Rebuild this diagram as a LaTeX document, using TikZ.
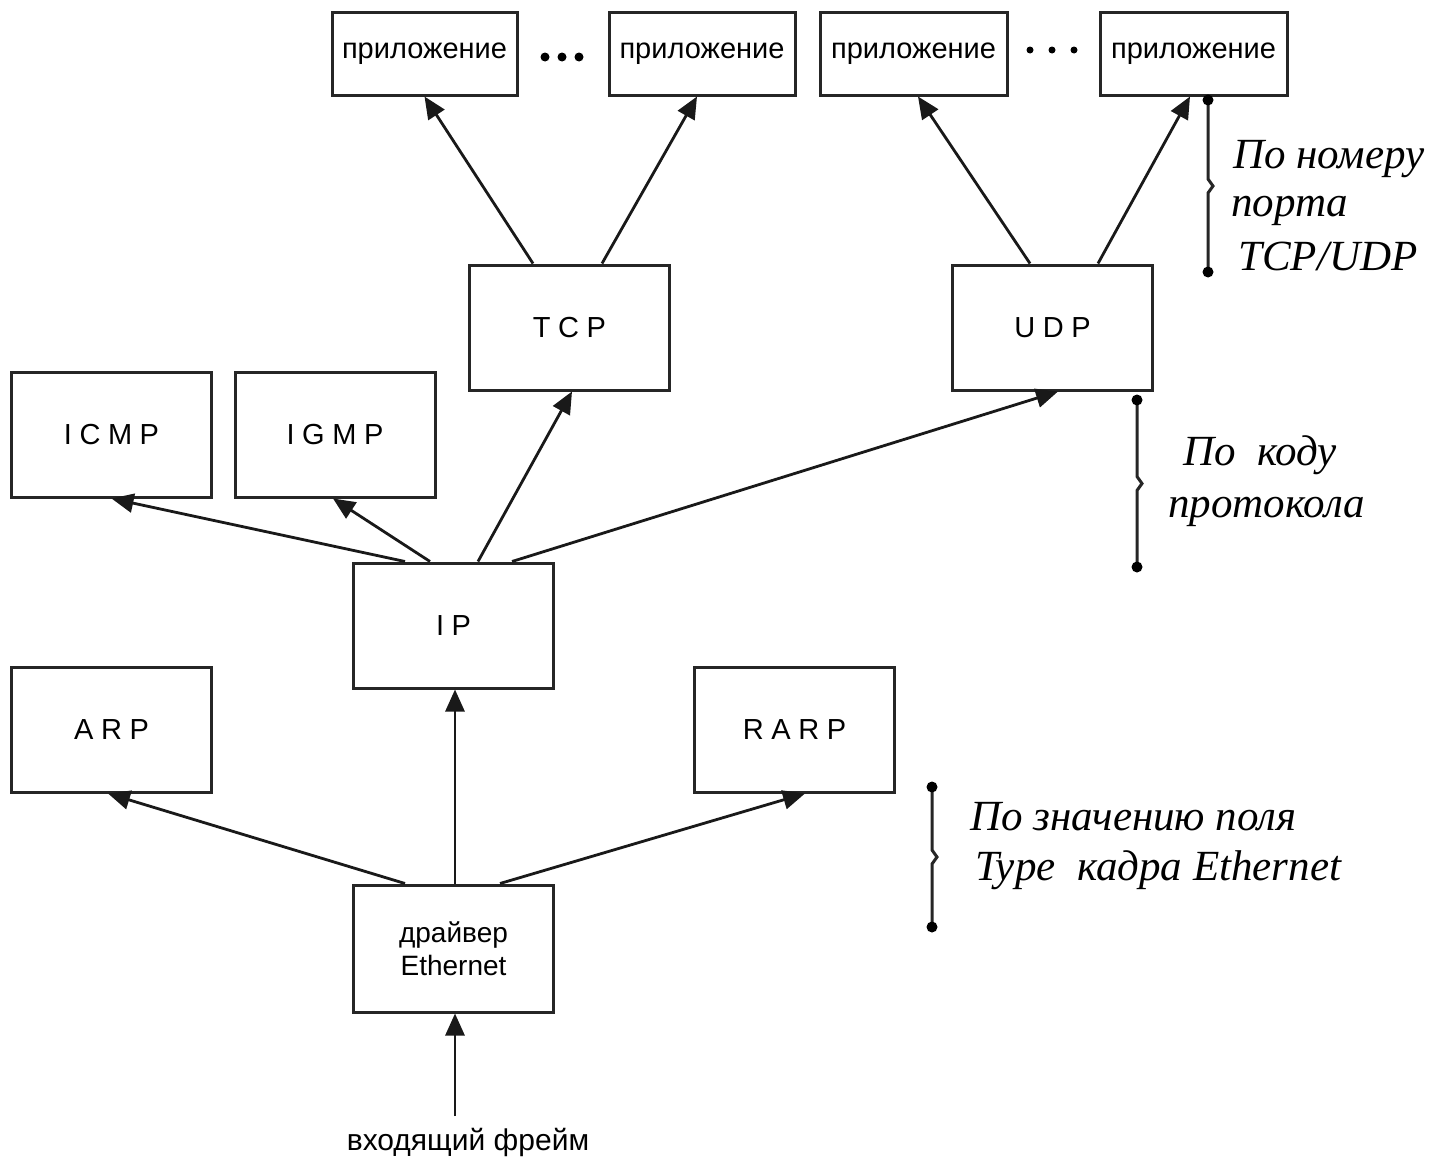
\documentclass[tikz,border=0pt]{standalone}
\usepackage{fontspec}
\setmainfont{Liberation Sans}
\newfontfamily\spacedfont[LetterSpace=26]{Liberation Sans}
\newfontfamily\seriffont{Liberation Serif}
\usetikzlibrary{arrows.meta}
\begin{document}
\begin{tikzpicture}[x=1pt,y=-1pt,
  box/.style={draw=black!85, line width=3pt, inner sep=0pt, fill=white},
  appbox/.style={box, minimum height=83pt, font=\fontsize{29}{33}\selectfont},
  protobox/.style={box, minimum width=200pt, minimum height=125pt, font=\spacedfont\fontsize{29}{33}\selectfont},
  arr/.style={line width=2.8pt, draw=black!90, -{Triangle[length=22pt,width=19pt]}},
  note/.style={anchor=base west, inner sep=0pt, font=\seriffont\itshape\fontsize{43}{50}\selectfont},
  brace/.style={line width=3pt, draw=black!85},
  dotf/.style={fill=black}
]
\useasboundingbox[fill=white] (0,0) rectangle (1433,1159);

% application boxes
\node[appbox, minimum width=185pt] (app1) at (424.5,53.5) {приложение};
\node[appbox, minimum width=186pt] (app2) at (702,53.5) {приложение};
\node[appbox, minimum width=187pt] (app3) at (913.5,53.5) {приложение};
\node[appbox, minimum width=187pt] (app4) at (1193.5,53.5) {приложение};

% ellipsis dots
\foreach \x in {545,562,579} \fill[dotf] (\x,57) circle (4.5pt);
\foreach \x in {1030,1052,1074} \fill[dotf] (\x,50) circle (3.5pt);

% protocol boxes
\node[protobox] (tcp) at (569.5,327.5) {TCP};
\node[protobox] (udp) at (1052.5,327.5) {UDP};
\node[protobox] (icmp) at (111.5,434.5) {ICMP};
\node[protobox] (igmp) at (335,434.5) {IGMP};
\node[protobox] (ip) at (453.5,625.5) {IP};
\node[protobox] (arp) at (111.5,729.5) {ARP};
\node[protobox] (rarp) at (794.5,729.5) {RARP};
\node[box, minimum width=200pt, minimum height=127pt, align=center,
      font=\fontsize{28}{33}\selectfont] (drv) at (453.5,948.5) {драйвер\\Ethernet};

\node[inner sep=0pt, font=\fontsize{30}{33}\selectfont] (inlbl) at (468,1142) {входящий фрейм};
\coordinate (instart) at (455,1116);

% connectors
\draw[arr] ([xshift=-36.5pt]tcp.north) -- ([xshift=0pt]app1.south);
\draw[arr] ([xshift=32.5pt]tcp.north) -- ([xshift=-5pt]app2.south);
\draw[arr] ([xshift=-22.5pt]udp.north) -- ([xshift=4.5pt]app3.south);
\draw[arr] ([xshift=45.5pt]udp.north) -- ([xshift=-3.5pt]app4.south);
\draw[arr] ([xshift=-48.5pt]ip.north) -- ([xshift=0pt]icmp.south);
\draw[arr] ([xshift=-23.5pt]ip.north) -- ([xshift=-2pt]igmp.south);
\draw[arr] ([xshift=24.5pt]ip.north) -- ([xshift=2.5pt]tcp.south);
\draw[arr] ([xshift=58.5pt]ip.north) -- ([xshift=5.5pt]udp.south);
\draw[arr] ([xshift=1.5pt]drv.north) -- ([xshift=1.5pt]ip.south);
\draw[arr] ([xshift=-48.5pt]drv.north) -- ([xshift=-3.5pt]arp.south);
\draw[arr] ([xshift=46.5pt]drv.north) -- ([xshift=10.5pt]rarp.south);
\draw[arr] (instart) -- ([xshift=1.5pt]drv.south);

% braces
\foreach \bx/\ya/\yb in {1208/100/272, 1137/400/567, 932/787/927}{
  \draw[brace] (\bx,\ya) -- (\bx,{(\ya+\yb)/2-7}) -- (\bx+5,{(\ya+\yb)/2}) -- (\bx,{(\ya+\yb)/2+7}) -- (\bx,\yb);
  \fill[dotf] (\bx,\ya) circle (5.5pt);
  \fill[dotf] (\bx,\yb) circle (5.5pt);
}

% notes
\node[note] (n1a) at (1233,168) {По номеру};
\node[note] (n1b) at (1231,216) {порта};
\node[note] (n1c) at (1238,270) {TCP/UDP};
\node[note] (n2a) at (1183,465) {По\ \ коду};
\node[note] (n2b) at (1168,517) {протокола};
\node[note] (n3a) at (970,830) {По значению поля};
\node[note] (n3b) at (975,880) {Type\ \ кадра Ethernet};
\end{tikzpicture}
\end{document}
